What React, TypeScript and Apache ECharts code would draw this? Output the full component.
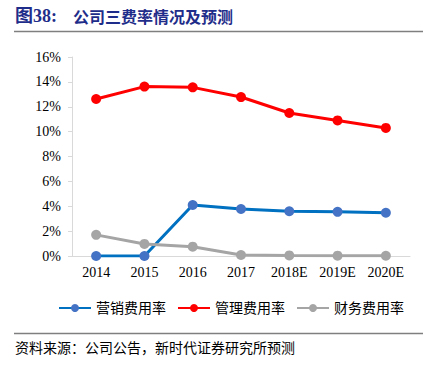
import React, { useEffect, useRef } from "react";
import * as echarts from "echarts";

const categories = ["2014", "2015", "2016", "2017", "2018E", "2019E", "2020E"];
const sellingRate = [0.0, 0.0, 4.1, 3.78, 3.6, 3.55, 3.48];
const adminRate = [12.62, 13.62, 13.56, 12.78, 11.5, 10.9, 10.3];
const financeRate = [1.7, 0.97, 0.75, 0.08, 0.05, 0.03, 0.02];
const seriesNames = ["营销费用率", "管理费用率", "财务费用率"];
const yTicks = [0, 2, 4, 6, 8, 10, 12, 14, 16];

const titleNum = "图38:";
const titleText = "公司三费率情况及预测";
const sourceText = "资料来源：公司公告，新时代证券研究所预测";

export default function App() {
  const ref = useRef<HTMLDivElement>(null);
  useEffect(() => {
    if (!ref.current) return;
    const chart = echarts.init(ref.current, null, { renderer: "svg" });
    const serif = "'Liberation Serif', 'Times New Roman', 'Noto Sans CJK SC', serif";
    const cjk = "'Liberation Serif', 'Noto Sans CJK SC', sans-serif";
    const mk = (name: string, data: number[], line: string, marker: string) => ({
      name,
      type: "line",
      data,
      symbol: "circle",
      symbolSize: 10,
      lineStyle: { color: line, width: 3 },
      itemStyle: { color: marker, borderWidth: 0 },
      emphasis: { disabled: true },
    });
    chart.setOption({
      animation: false,
      backgroundColor: "#ffffff",
      grid: { left: 72, right: 20, top: 57, bottom: 115 },
      xAxis: {
        type: "category",
        data: categories,
        boundaryGap: true,
        axisLine: { show: true, lineStyle: { color: "#D9D9D9", width: 1 } },
        axisTick: { show: false },
        axisLabel: { color: "#000", fontFamily: serif, fontSize: 14, margin: 9 },
      },
      yAxis: {
        type: "value",
        min: yTicks[0],
        max: yTicks[yTicks.length - 1],
        interval: 2,
        axisLine: { show: true, lineStyle: { color: "#D9D9D9", width: 1 } },
        axisTick: { show: true, length: 4, lineStyle: { color: "#D9D9D9" } },
        splitLine: { show: false },
        axisLabel: {
          color: "#000",
          fontFamily: serif,
          fontSize: 14,
          margin: 11,
          formatter: (v: number) => `${v}%`,
        },
      },
      legend: {
        data: seriesNames,
        left: 53,
        top: 296,
        itemWidth: 32,
        itemHeight: 10,
        itemGap: 11,
        textStyle: { fontFamily: cjk, fontSize: 14, color: "#000" },
      },
      series: [
        mk(seriesNames[0], sellingRate, "#0070C0", "#4472C4"),
        mk(seriesNames[1], adminRate, "#FF0000", "#FF0000"),
        mk(seriesNames[2], financeRate, "#A5A5A5", "#A5A5A5"),
      ],
      graphic: [
        {
          type: "text",
          left: 15,
          top: 7,
          style: {
            text: titleNum,
            fontFamily: serif,
            fontWeight: "bold",
            fontSize: 18,
            fill: "#1F2D8A",
          },
        },
        {
          type: "text",
          left: 73,
          top: 8,
          style: {
            text: titleText,
            fontFamily: "'Noto Sans CJK SC', sans-serif",
            fontWeight: "bold",
            fontSize: 16,
            fill: "#1F2D8A",
          },
        },
        {
          type: "line",
          shape: { x1: 14, y1: 31.5, x2: 423, y2: 31.5 },
          style: { stroke: "#7F7F7F", lineWidth: 1.5 },
        },
        {
          type: "line",
          shape: { x1: 14, y1: 333.5, x2: 423, y2: 333.5 },
          style: { stroke: "#7F7F7F", lineWidth: 1.5 },
        },
        {
          type: "text",
          left: 15,
          top: 340,
          style: {
            text: sourceText,
            fontFamily: "'Noto Sans CJK SC', sans-serif",
            fontSize: 14,
            fill: "#000",
          },
        },
      ],
    });
    return () => chart.dispose();
  }, []);
  return (
    <div
      ref={ref}
      style={{ position: "fixed", left: 0, top: 0, width: 430, height: 371 }}
    />
  );
}
